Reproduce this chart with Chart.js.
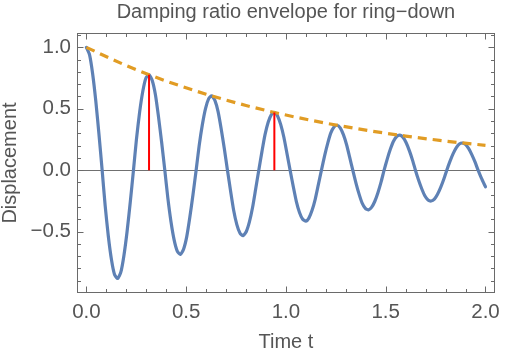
<!DOCTYPE html>
<html><head><meta charset="utf-8">
<script src="https://cdn.jsdelivr.net/npm/chart.js@4.4.1/dist/chart.umd.min.js"></script>
<style>html,body{margin:0;padding:0;background:#fff;overflow:hidden}canvas{display:block}</style>
</head><body>
<canvas id="c" width="507" height="357"></canvas>
<script>
const timeValues = [
0.000,0.016,0.031,0.047,0.063,0.079,0.094,0.110,0.126,0.141,
0.157,0.173,0.188,0.204,0.220,0.236,0.251,0.267,0.283,0.298,
0.314,0.330,0.346,0.361,0.377,0.393,0.408,0.424,0.440,0.456,
0.471,0.487,0.503,0.518,0.534,0.550,0.565,0.581,0.597,0.613,
0.628,0.644,0.660,0.675,0.691,0.707,0.723,0.738,0.754,0.770,
0.785,0.801,0.817,0.833,0.848,0.864,0.880,0.895,0.911,0.927,
0.942,0.958,0.974,0.990,1.005,1.021,1.037,1.052,1.068,1.084,
1.100,1.115,1.131,1.147,1.162,1.178,1.194,1.210,1.225,1.241,
1.257,1.272,1.288,1.304,1.319,1.335,1.351,1.367,1.382,1.398,
1.414,1.429,1.445,1.461,1.477,1.492,1.508,1.524,1.539,1.555,
1.571,1.587,1.602,1.618,1.634,1.649,1.665,1.681,1.696,1.712,
1.728,1.744,1.759,1.775,1.791,1.806,1.822,1.838,1.854,1.869,
1.885,1.901,1.916,1.932,1.948,1.963,1.979,1.995,2.000];

const displacementValues = [
1.000,0.939,0.789,0.566,0.294,0,-0.287,-0.538,-0.732,-0.849,
-0.882,-0.828,-0.696,-0.499,-0.259,0,0.253,0.475,0.645,0.749,
0.778,0.730,0.614,0.440,0.229,0,-0.223,-0.419,-0.569,-0.661,
-0.686,-0.644,-0.541,-0.388,-0.202,0,0.197,0.369,0.502,0.583,
0.605,0.568,0.477,0.342,0.178,0,-0.173,-0.326,-0.443,-0.514,
-0.533,-0.501,-0.421,-0.302,-0.157,0,0.153,0.287,0.390,0.453,
0.470,0.442,0.371,0.266,0.138,0,-0.135,-0.253,-0.344,-0.400,
-0.415,-0.390,-0.327,-0.235,-0.122,0,0.119,0.223,0.304,0.352,
0.366,0.344,0.289,0.207,0.108,0,-0.105,-0.197,-0.268,-0.311,
-0.323,-0.303,-0.255,-0.183,-0.095,0,0.092,0.174,0.236,0.274,
0.285,0.267,0.225,0.161,0.084,0,-0.082,-0.153,-0.208,-0.242,
-0.251,-0.236,-0.198,-0.142,-0.074,0,0.072,0.135,0.184,0.213,
0.221,0.208,0.175,0.125,0.065,0,-0.063,-0.119,-0.135];

const envelopeTimes  = [0,0.2,0.4,0.6,0.8,1.0,1.2,1.4,1.6,1.8,2.0];
const envelopeValues = [1,0.852,0.726,0.619,0.527,0.449,0.383,0.326,0.278,0.237,0.202];

const peakTimes  = [0.314, 0.942];
const peakValues = [0.778, 0.470];

const xTickValues = [0, 0.5, 1, 1.5, 2];
const xTickLabels = ['0.0','0.5','1.0','1.5','2.0'];
const yTickValues = [-0.5, 0, 0.5, 1];
const yTickLabels = ['\u22120.5','0.0','0.5','1.0'];

const TEXT = '#555555';
const FRAME = '#6a6a6a';
const FONT = "'Liberation Sans', Arial, sans-serif";

function labelFor(vals, labels, v) {
  const i = vals.findIndex(t => Math.abs(t - v) < 1e-6);
  return i >= 0 ? labels[i] : '';
}

const datasets = [
  {
    data: timeValues.map((t, i) => ({x: t, y: displacementValues[i]})),
    borderColor: '#5e81b5', borderWidth: 3.2, tension: 0.2,
    borderCapStyle: 'round', borderJoinStyle: 'round', pointRadius: 0, order: 3
  },
  {
    data: envelopeTimes.map((t, i) => ({x: t, y: envelopeValues[i]})),
    borderColor: '#e19c24', borderWidth: 3.2, borderDash: [9, 6],
    cubicInterpolationMode: 'monotone', pointRadius: 0, order: 2
  }
];
peakTimes.forEach((t, i) => {
  datasets.push({
    data: [{x: t, y: 0}, {x: t, y: peakValues[i]}],
    borderColor: '#ff0000', borderWidth: 2, pointRadius: 0, order: 1
  });
});

const frameTicks = {
  id: 'frameTicks',
  afterDatasetsDraw(chart) {
    const {ctx, chartArea: a, scales: {x, y}} = chart;
    const L = Math.round(a.left) + 0.5, R = Math.round(a.right) - 0.5;
    const T = Math.round(a.top) + 0.5, B = Math.round(a.bottom) - 0.5;
    ctx.save();
    ctx.strokeStyle = FRAME; ctx.lineWidth = 1;
    ctx.beginPath();
    x.ticks.forEach(tk => {
      const major = Math.round(tk.value * 10) % 5 === 0;
      const len = major ? 6 : 3.5;
      const px = Math.round(x.getPixelForValue(tk.value)) + 0.5;
      ctx.moveTo(px, B); ctx.lineTo(px, B - len);
      ctx.moveTo(px, T); ctx.lineTo(px, T + len);
    });
    y.ticks.forEach(tk => {
      if (tk.value <= -0.999) return;
      const major = Math.round(tk.value * 10) % 5 === 0;
      const len = major ? 6 : 3.5;
      const py = Math.round(y.getPixelForValue(tk.value)) + 0.5;
      ctx.moveTo(L, py); ctx.lineTo(L + len, py);
      ctx.moveTo(R, py); ctx.lineTo(R - len, py);
    });
    ctx.stroke();
    ctx.strokeRect(L, T, R - L, B - T);
    ctx.restore();
  }
};

new Chart(document.getElementById('c'), {
  type: 'line',
  data: {datasets},
  options: {
    responsive: false, animation: false, devicePixelRatio: 1,
    layout: {padding: {left: 0, right: 8, top: 0, bottom: 0}},
    plugins: {
      legend: {display: false}, tooltip: {enabled: false},
      title: {
        display: true, text: 'Damping ratio envelope for ring\u2212down', fullSize: false,
        color: TEXT, font: {family: FONT, size: 20, weight: 'normal', lineHeight: 1.2},
        padding: {top: 0.5, bottom: 8.5}
      }
    },
    scales: {
      x: {
        type: 'linear', min: -0.047, max: 2.047,
        afterFit: s => { s.height = 64; },
        grid: {display: false, drawTicks: false},
        border: {display: false},
        ticks: {
          stepSize: 0.1, includeBounds: false, autoSkip: false, maxRotation: 0, minRotation: 0,
          padding: 7, color: TEXT, font: {family: FONT, size: 20.5},
          callback: v => labelFor(xTickValues, xTickLabels, v)
        },
        title: {display: true, text: 'Time t', color: TEXT,
          font: {family: FONT, size: 20, lineHeight: 1}, padding: {top: 0, bottom: 4.5}}
      },
      y: {
        type: 'linear', min: -1.0, max: 1.117,
        afterFit: s => { s.width = 77; },
        grid: {drawTicks: false, lineWidth: 1,
          color: c => (c.tick && Math.abs(c.tick.value) < 1e-9) ? '#707070' : 'rgba(0,0,0,0)'},
        border: {display: false},
        ticks: {
          stepSize: 0.1, includeBounds: false, autoSkip: false,
          padding: 6, color: TEXT, font: {family: FONT, size: 20.5},
          callback: v => labelFor(yTickValues, yTickLabels, v)
        },
        title: {display: true, text: 'Displacement', color: TEXT,
          font: {family: FONT, size: 20, lineHeight: 1}, padding: {top: 0, bottom: 0}}
      }
    }
  },
  plugins: [frameTicks]
});
</script>
</body></html>
